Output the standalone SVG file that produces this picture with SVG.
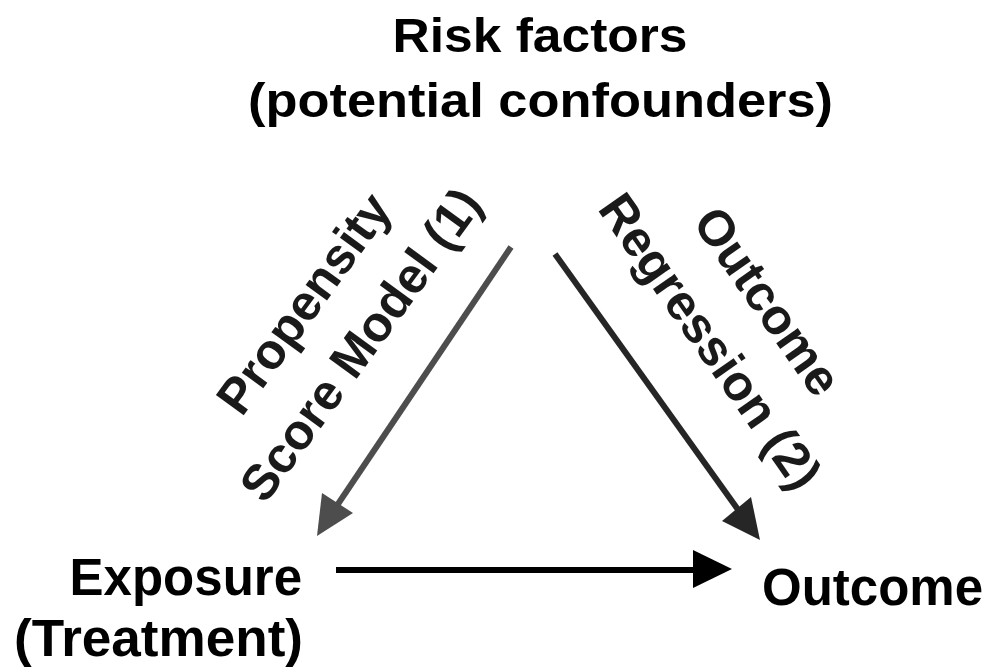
<svg xmlns="http://www.w3.org/2000/svg" width="989" height="668" viewBox="0 0 989 668">
<style>
  text { font-family: "Liberation Sans", Arial, sans-serif; font-weight: bold; fill: #000; }
  .lbl { font-size: 50px; fill: #1a1a1a; text-anchor: middle; }
  .node { font-size: 51px; }
  .top { font-size: 49px; text-anchor: middle; }
</style>
<rect width="989" height="668" fill="#fff"/>
<g id="risk-factors">
  <text class="top" x="540" y="52" textLength="295" lengthAdjust="spacingAndGlyphs">Risk factors</text>
  <text class="top" x="540.5" y="117" textLength="585" lengthAdjust="spacingAndGlyphs">(potential confounders)</text>
</g>
<g id="exposure">
  <text class="node" x="302" y="595" text-anchor="end">Exposure</text>
  <text class="node" x="303" y="656" text-anchor="end" textLength="289" lengthAdjust="spacingAndGlyphs">(Treatment)</text>
</g>
<g id="outcome">
  <text class="node" x="762" y="605">Outcome</text>
</g>
<g id="connectors">
  <g id="ps-model">
    <line x1="511" y1="247" x2="336" y2="507" stroke="#4d4d4d" stroke-width="6"/>
    <polygon points="317,536 322,493 353,513" fill="#4d4d4d"/>
    <g transform="translate(346,334) rotate(-54)">
      <text class="lbl" x="0" y="-35">Propensity</text>
      <text class="lbl" x="0" y="35">Score Model (1)</text>
    </g>
  </g>
  <g id="outcome-regression">
    <line x1="555" y1="254" x2="739" y2="511" stroke="#262626" stroke-width="6"/>
    <polygon points="760,540 722,521 751,497" fill="#262626"/>
    <g transform="translate(725,331) rotate(55)">
      <text class="lbl" x="0" y="-35">Outcome</text>
      <text class="lbl" x="0" y="35">Regression (2)</text>
    </g>
  </g>
  <g id="exposure-outcome">
    <line x1="336" y1="570" x2="700" y2="570" stroke="#000" stroke-width="6"/>
    <polygon points="732,569 693,550 693,588" fill="#000"/>
  </g>
</g>
</svg>
